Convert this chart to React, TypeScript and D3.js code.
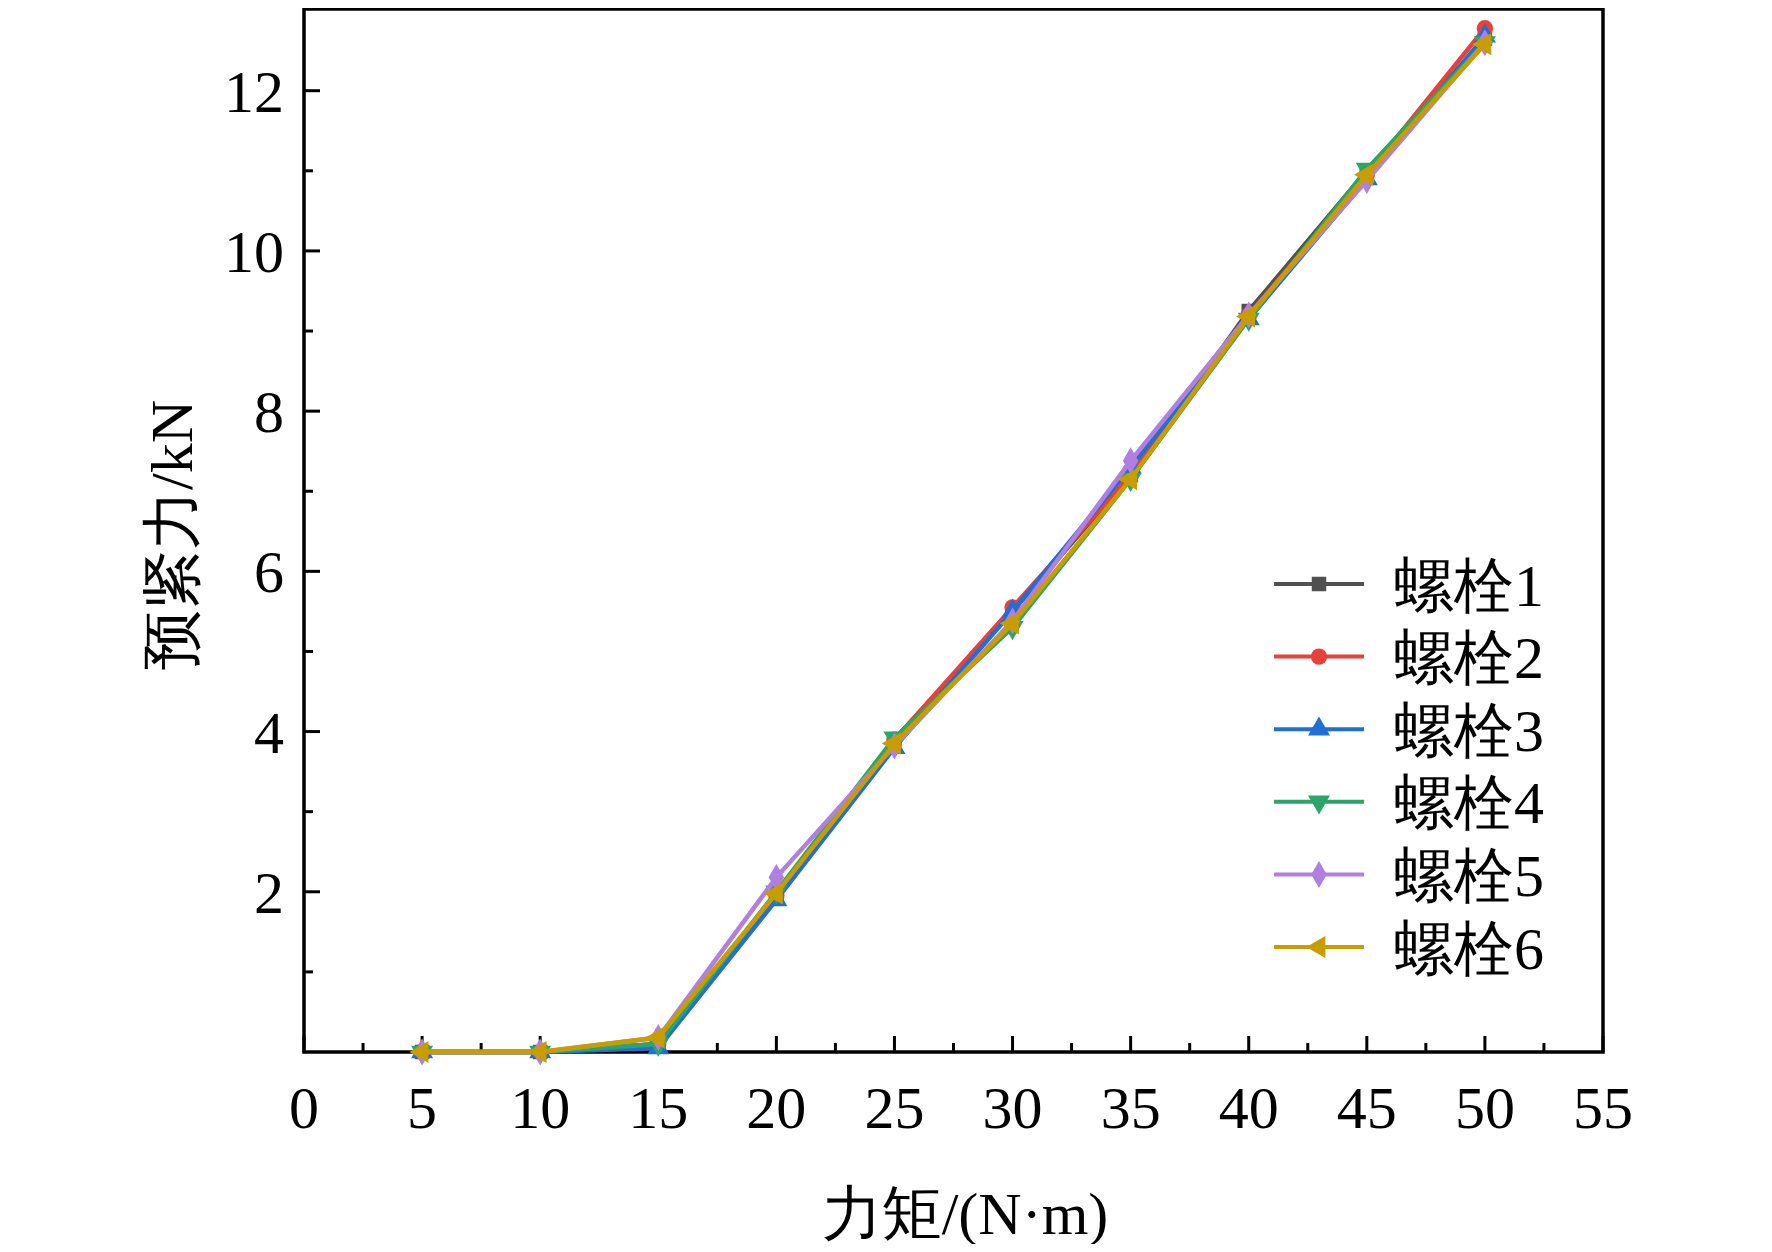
import React, { useEffect, useRef } from 'react'
import * as d3 from 'd3'

const torque = [5, 10, 15, 20, 25, 30, 35, 40, 45, 50]
const seriesNames = ['螺栓1', '螺栓2', '螺栓3', '螺栓4', '螺栓5', '螺栓6']
const bolt1 = [0, 0, 0.1, 1.95, 3.9, 5.5, 7.2, 9.25, 11.0, 12.65]
const bolt2 = [0, 0, 0.1, 1.95, 3.9, 5.55, 7.2, 9.2, 10.95, 12.78]
const bolt3 = [0, 0, 0.05, 1.9, 3.8, 5.5, 7.3, 9.15, 10.9, 12.68]
const bolt4 = [0, 0, 0.1, 2.0, 3.92, 5.3, 7.15, 9.15, 11.02, 12.6]
const bolt5 = [0, 0, 0.18, 2.18, 3.82, 5.38, 7.38, 9.2, 10.88, 12.6]
const bolt6 = [0, 0, 0.18, 1.98, 3.85, 5.35, 7.15, 9.18, 10.95, 12.58]
const colors = ['#505050', '#e8403a', '#1f6fd6', '#2ca56a', '#b07fe0', '#c89d00']
const symbols = [d3.symbolSquare, d3.symbolCircle, d3.symbolTriangle, d3.symbolTriangle, d3.symbolDiamond, d3.symbolTriangle]
const rotations = [0, 0, 0, 180, 0, -90]
const xTicks = [0, 5, 10, 15, 20, 25, 30, 35, 40, 45, 50, 55]
const yTicks = [2, 4, 6, 8, 10, 12]

export default function App() {
  const svgRef = useRef<SVGSVGElement>(null)

  useEffect(() => {
    const svg = d3.select(svgRef.current)
    svg.selectAll('*').remove()
    const font = '"Liberation Serif", "Times New Roman", serif'
    const fs = '60px'
    const left = 304, right = 1603, top = 9, bottom = 1052

    const x = d3.scaleLinear().domain([0, 55]).range([left, right])
    const y = d3.scaleLinear().domain([0, 13.02]).range([bottom, top])

    // ticks (inward)
    const xMinor = d3.range(2.5, 55, 5)
    svg.selectAll('.xt').data(xTicks).enter().append('line')
      .attr('x1', d => x(d)).attr('x2', d => x(d)).attr('y1', bottom).attr('y2', bottom - 16)
      .attr('stroke', '#000').attr('stroke-width', 3)
    svg.selectAll('.xm').data(xMinor).enter().append('line')
      .attr('x1', d => x(d)).attr('x2', d => x(d)).attr('y1', bottom).attr('y2', bottom - 9)
      .attr('stroke', '#000').attr('stroke-width', 3)
    svg.selectAll('.yt').data(yTicks).enter().append('line')
      .attr('x1', left).attr('x2', left + 16).attr('y1', d => y(d)).attr('y2', d => y(d))
      .attr('stroke', '#000').attr('stroke-width', 3)
    svg.selectAll('.ym').data(d3.range(1, 13, 2)).enter().append('line')
      .attr('x1', left).attr('x2', left + 9).attr('y1', d => y(d)).attr('y2', d => y(d))
      .attr('stroke', '#000').attr('stroke-width', 3)

    svg.append('rect').attr('x', left).attr('y', top).attr('width', right - left).attr('height', bottom - top)
      .attr('fill', 'none').attr('stroke', '#000').attr('stroke-width', 3.5)

    svg.selectAll('.xl').data(xTicks).enter().append('text')
      .attr('x', d => x(d)).attr('y', 1128).attr('text-anchor', 'middle')
      .style('font-family', font).style('font-size', fs).text(d => d)
    svg.selectAll('.yl').data(yTicks).enter().append('text')
      .attr('x', 284).attr('y', d => y(d)).attr('dy', '0.35em').attr('text-anchor', 'end')
      .style('font-family', font).style('font-size', fs).text(d => d)

    svg.append('text').attr('x', 965).attr('y', 1234).attr('text-anchor', 'middle')
      .style('font-family', font).style('font-size', fs).text('力矩/(N·m)')
    svg.append('text').attr('transform', 'translate(192,535) rotate(-90)').attr('text-anchor', 'middle')
      .style('font-family', font).style('font-size', fs).text('预紧力/kN')

    const data = [bolt1, bolt2, bolt3, bolt4, bolt5, bolt6]
    const line = d3.line<number>().x((_, i) => x(torque[i])).y(d => y(d))
    data.forEach((vals, k) => {
      svg.append('path').datum(vals).attr('d', line).attr('fill', 'none')
        .attr('stroke', colors[k]).attr('stroke-width', 4.5)
      const sym = d3.symbol(symbols[k], 210)
      svg.selectAll(`.p${k}`).data(vals).enter().append('path')
        .attr('d', sym).attr('fill', colors[k])
        .attr('transform', (d, i) => `translate(${x(torque[i])},${y(d)}) rotate(${rotations[k]})`)
    })

    const legendY = d3.scalePoint().domain(seriesNames).range([584, 947])
    seriesNames.forEach((name, k) => {
      const ly = legendY(name) as number
      svg.append('line').attr('x1', 1274).attr('x2', 1364).attr('y1', ly).attr('y2', ly)
        .attr('stroke', colors[k]).attr('stroke-width', 4)
      svg.append('path').attr('d', d3.symbol(symbols[k], 210)).attr('fill', colors[k])
        .attr('transform', `translate(1319,${ly}) rotate(${rotations[k]})`)
      svg.append('text').attr('x', 1394).attr('y', ly).attr('dy', '0.36em')
        .style('font-family', font).style('font-size', fs).text(name)
    })
  }, [])

  return <svg ref={svgRef} width={1772} height={1252} style={{ display: 'block', margin: '-8px', background: '#fff' }} />
}
